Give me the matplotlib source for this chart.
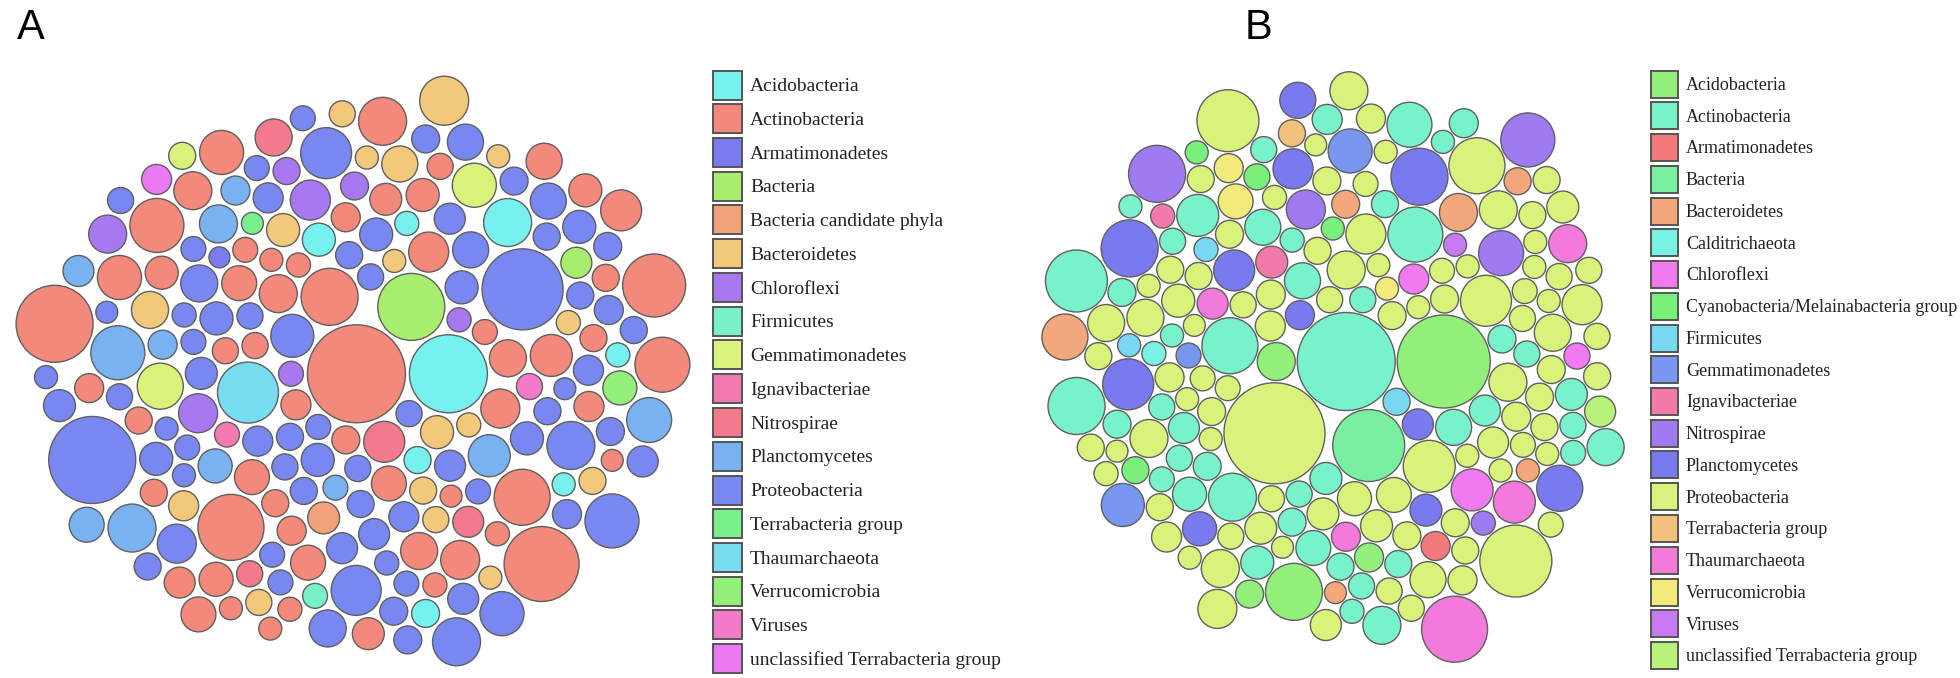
import numpy as np
import matplotlib
matplotlib.use('Agg')
import matplotlib.pyplot as plt
from matplotlib.patches import Circle, Patch
from matplotlib.font_manager import FontProperties

# ---------------- data: panel A ----------------
a_names = ['Acidobacteria', 'Actinobacteria', 'Armatimonadetes', 'Bacteria',
           'Bacteria candidate phyla', 'Bacteroidetes', 'Chloroflexi', 'Firmicutes',
           'Gemmatimonadetes', 'Ignavibacteriae', 'Nitrospirae', 'Planctomycetes',
           'Proteobacteria', 'Terrabacteria group', 'Thaumarchaeota', 'Verrucomicrobia',
           'Viruses', 'unclassified Terrabacteria group']
a_colors = ['#76F2EE', '#F2897A', '#7B7BF0', '#A8EE6E', '#F0A37A', '#F2C97A',
            '#A878F0', '#78F0C8', '#D8F27A', '#F27AB2', '#F27A8C', '#78B2F0',
            '#7888F0', '#78F08C', '#78DCF0', '#92F07A', '#F27AC8', '#EA7AF2']
a_values = [
    [608, 53, 109, 78, 230, 73, 58, 58],
    [109, 58, 137, 194, 102, 325, 68, 73, 96, 109, 68, 116, 84, 168, 292, 122, 58, 960, 68, 58,
     84, 53, 152, 152, 48, 314, 90, 194, 53, 397, 122, 122, 84, 176, 53, 73, 160, 230, 137, 78,
     562, 48, 102, 73, 62, 73, 436, 122, 73, 122, 302, 109, 144, 144, 62, 130, 90, 58, 593],
    [44],
    [449, 96],
    [102],
    [53, 58, 58, 73, 68, 240, 130, 73, 68, 137, 109, 53, 109, 68, 90, 53, 53],
    [160, 62, 73, 152, 144, 78, 58],
    [62],
    [212, 73, 194],
    [62],
    [137, 96, 168, 68],
    [116, 96, 292, 62, 230, 84, 122, 84, 176, 202, 144],
    [68, 78, 137, 62, 62, 109, 78, 96, 68, 62, 62, 78, 62, 68, 48, 58, 230, 73, 102, 78,
     53, 73, 152, 130, 96, 58, 73, 78, 73, 53, 757, 656, 292, 230, 68, 62, 62, 73, 250, 73,
     96, 53, 62, 62, 90, 102, 90, 68, 130, 62, 78, 260, 73, 130, 48, 109, 84, 109, 194, 90,
     96, 109, 96, 185, 73, 109, 137, 109, 90, 84, 96, 68, 68, 109, 73],
    [48],
    [372],
    [116],
    [68],
    [90],
]

# ---------------- data: panel B ----------------
b_names = ['Acidobacteria', 'Actinobacteria', 'Armatimonadetes', 'Bacteria', 'Bacteroidetes',
           'Calditrichaeota', 'Chloroflexi', 'Cyanobacteria/Melainabacteria group',
           'Firmicutes', 'Gemmatimonadetes', 'Ignavibacteriae', 'Nitrospirae',
           'Planctomycetes', 'Proteobacteria', 'Terrabacteria group', 'Thaumarchaeota',
           'Verrucomicrobia', 'Viruses', 'unclassified Terrabacteria group']
b_colors = ['#92F07A', '#78F2CA', '#F27A7A', '#78F0A0', '#F2A87A', '#78F2E2', '#F07AF0',
            '#78F07A', '#78D8F2', '#7898F0', '#F27AAA', '#A07AF0', '#7A7AF0', '#D8F27A',
            '#F2C27A', '#F27ADA', '#F2EA7A', '#C87AF0', '#B8F27A']
b_values = [
    [144, 325, 865, 78, 84],
    [102, 78, 96, 84, 73, 68, 90, 122, 960, 102, 73, 325, 116, 302, 68, 53, 53, 109, 130, 62,
     68, 314, 68, 78, 384, 73, 58, 78, 68, 68, 62, 78, 58, 176, 130, 202, 78, 137, 68, 96,
     53, 68, 130, 68, 230, 144],
    [84],
    [518],
    [48, 144, 212, 53, 78, 73],
    [58],
    [90, 68, 176],
    [53, 68, 53, 73],
    [58, 73, 53],
    [62, 185, 194],
    [102, 58],
    [202, 292, 58, 152, 325],
    [160, 96, 325, 102, 130, 260, 168, 212, 325, 84, 116],
    [53, 48, 62, 78, 68, 109, 62, 68, 78, 84, 102, 144, 53, 102, 68, 137, 62, 73, 62, 73,
     53, 53, 73, 78, 53, 68, 73, 102, 144, 260, 518, 68, 78, 73, 53, 68, 137, 68, 160, 84,
     58, 53, 62, 384, 53, 53, 53, 96, 68, 78, 116, 73, 78, 152, 314, 68, 90, 78, 73, 73,
     78, 144, 73, 122, 1020, 78, 90, 48, 48, 53, 48, 160, 144, 84, 73, 53, 102, 84, 62, 84,
     130, 53, 96, 144, 62, 137, 58, 68, 53, 144, 73, 73, 270],
    [73],
    [84, 436, 176, 96, 144],
    [122, 53, 84],
    [53],
    [96],
]

BUBBLE_SCALE = np.sqrt(10.0) / 2.0   # radius in px per sqrt(value)


def pack(radii, pad, stretch=1.0):
    # greedy packing: each bubble goes to the free tangent spot closest to centre
    n = len(radii)
    pos = np.zeros((n, 2))
    ang = np.linspace(0, 2 * np.pi, 24, endpoint=False)
    dirs = np.stack([np.cos(ang), np.sin(ang)], axis=1)
    for i in range(1, n):
        P = pos[:i]
        R = radii[:i] + radii[i] + pad
        cands = [(P[:, None, :] + R[:, None, None] * dirs[None]).reshape(-1, 2)]
        if i >= 2:
            a, b = np.triu_indices(i, 1)
            d = np.linalg.norm(P[a] - P[b], axis=1)
            ok = (d < R[a] + R[b]) & (d > np.abs(R[a] - R[b])) & (d > 0)
            a, b, d = a[ok], b[ok], d[ok]
            l = (R[a] ** 2 - R[b] ** 2 + d ** 2) / (2 * d)
            h = np.sqrt(np.maximum(R[a] ** 2 - l ** 2, 0))
            u = (P[b] - P[a]) / d[:, None]
            base = P[a] + u * l[:, None]
            perp = np.stack([-u[:, 1], u[:, 0]], axis=1)
            cands.append(base + perp * h[:, None])
            cands.append(base - perp * h[:, None])
        C = np.vstack(cands)
        D = np.linalg.norm(C[:, None, :] - P[None], axis=2)
        C = C[np.all(D >= R[None] - 1e-6, axis=1)]
        cost = np.hypot(C[:, 0] / stretch, C[:, 1])
        pos[i] = C[np.argmin(cost)]
    return pos


def draw_panel(ax, values, colors, center, stretch, pad, n_first):
    cat = np.concatenate([[k] * len(v) for k, v in enumerate(values)])
    val = np.concatenate([np.asarray(v, float) for v in values])
    # biggest bubbles first (centre), the rest mixed
    key = (np.arange(len(val)) * 0.6180339887) % 1.0
    key[np.argsort(-val)[:n_first]] -= 2.0
    order = np.argsort(key)
    cat, val = cat[order], val[order]
    radii = np.sqrt(val) * BUBBLE_SCALE
    pos = pack(radii, pad, stretch)
    lo = (pos - radii[:, None]).min(axis=0)
    hi = (pos + radii[:, None]).max(axis=0)
    pos = pos - (lo + hi) / 2 + np.asarray(center)
    for (x, y), r, k in zip(pos, radii, cat):
        ax.add_patch(Circle((x, y), r, facecolor=colors[k], edgecolor='#606060',
                            linewidth=1.0, zorder=2))


def add_legend(ax, fig, names, colors, anchor, size, box, pitch):
    handles = [Patch(facecolor=c, edgecolor='#555555', linewidth=1.4, label=n)
               for n, c in zip(names, colors)]
    fs_px = size * 100 / 72
    # matplotlib shrinks the patch by 0.35*fs*(handleheight-0.7)
    hh = (box / fs_px - 0.245) / 0.65
    leg = ax.legend(handles=handles, loc='upper left',
                    bbox_to_anchor=(anchor[0] / 1960, 1 - anchor[1] / 678),
                    bbox_transform=fig.transFigure, frameon=False,
                    prop=FontProperties(family='Liberation Serif', size=size),
                    handlelength=box / fs_px, handleheight=hh,
                    handletextpad=8 / fs_px, labelspacing=(pitch - box) / fs_px,
                    borderpad=0, borderaxespad=0)
    for t in leg.get_texts():
        t.set_color('#222222')
    return leg


fig = plt.figure(figsize=(19.6, 6.78), dpi=100)
ax = fig.add_axes([0, 0, 1, 1])
ax.set_xlim(0, 1960)
ax.set_ylim(678, 0)
ax.set_aspect('equal')
ax.axis('off')

draw_panel(ax, a_values, a_colors, (353, 371), 1.17, 4.0, 1)
draw_panel(ax, b_values, b_colors, (1333, 367), 1.0, 2.0, 4)

leg_a = add_legend(ax, fig, a_names, a_colors, (713, 70.5), 14.0, 29, 33.75)
ax.add_artist(leg_a)
add_legend(ax, fig, b_names, b_colors, (1651, 70.5), 13.0, 27, 31.75)

ax.text(17, 8, 'A', fontsize=30, family='Liberation Sans', va='top', ha='left')
ax.text(1245, 8, 'B', fontsize=30, family='Liberation Sans', va='top', ha='left')

fig.savefig('out.png', dpi=100)
